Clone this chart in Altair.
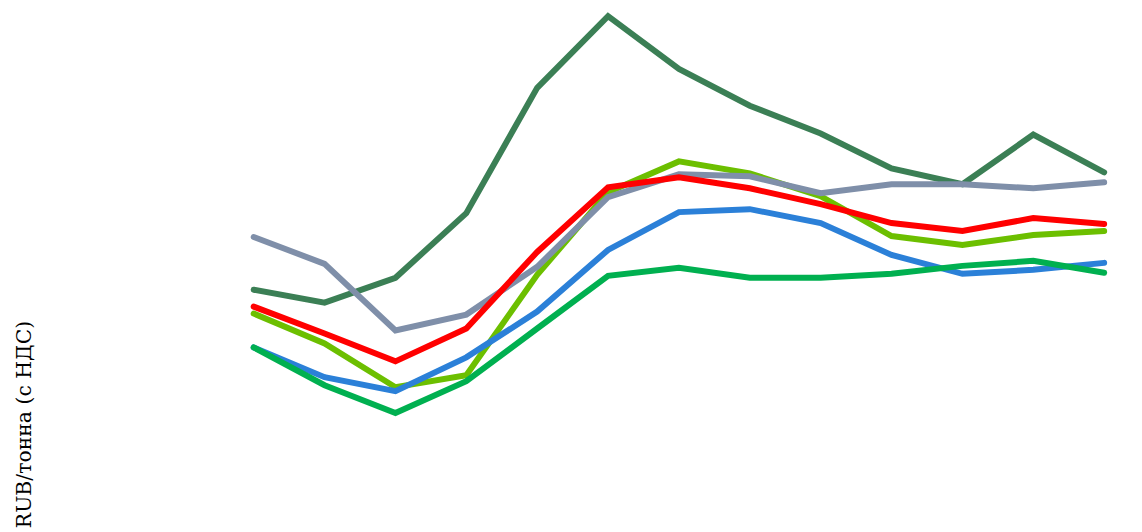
import altair as alt
import pandas as pd

periods = ["01.2021", "02.2021", "03.2021", "04.2021", "05.2021", "06.2021", "07.2021",
           "08.2021", "09.2021", "10.2021", "11.2021", "12.2021", "01.2022"]

s_dark_green = [27400, 26750, 28000, 31250, 37550, 41150, 38500, 36650, 35250, 33500, 32700, 35200, 33300]
s_light_green = [26200, 24700, 22500, 23100, 28150, 32300, 33850, 33250, 32100, 30100, 29650, 30150, 30350]
s_blue = [24500, 23000, 22300, 24000, 26300, 29400, 31300, 31450, 30750, 29150, 28200, 28400, 28750]
s_green = [24500, 22600, 21200, 22800, 25450, 28100, 28500, 28000, 28000, 28200, 28600, 28850, 28250]
s_gray = [30050, 28700, 25350, 26150, 28550, 32050, 33200, 33100, 32250, 32700, 32700, 32500, 32800]
s_red = [26550, 25200, 23800, 25450, 29300, 32550, 33050, 32500, 31700, 30750, 30350, 31000, 30700]

series = [
    ("Ряд 1", s_dark_green, "#3b7f55"),
    ("Ряд 2", s_light_green, "#6cbf00"),
    ("Ряд 3", s_blue, "#2b80d8"),
    ("Ряд 4", s_green, "#00b050"),
    ("Ряд 5", s_gray, "#7f8fa9"),
    ("Ряд 6", s_red, "#ff0000"),
]

layers = []
for name, vals, col in series:
    df = pd.DataFrame({"period": periods, "value": vals, "series": name})
    layers.append(
        alt.Chart(df).mark_line(strokeWidth=6, strokeCap="round", color=col).encode(
            x=alt.X("period:O", sort=periods, scale=alt.Scale(padding=0), axis=None),
            y=alt.Y(
                "value:Q",
                scale=alt.Scale(domain=[0, 41200], nice=False, zero=True),
                axis=alt.Axis(
                    title="RUB/тонна (с НДС)",
                    labels=False, ticks=False, domain=False, grid=False,
                    titleFont="DejaVu Serif", titleFontSize=20.5,
                    titleFontWeight="normal", titleColor="#000000",
                    titleX=-220, titleY=411,
                ),
            ),
        )
    )

chart = alt.layer(*layers).properties(
    width=855, height=824,
    autosize=alt.AutoSizeParams(type="none"),
    padding={"left": 247, "top": 5, "right": 30, "bottom": 5},
).configure_view(stroke=None)

chart.save("out.html", embed_options={"renderer": "svg", "actions": False})
